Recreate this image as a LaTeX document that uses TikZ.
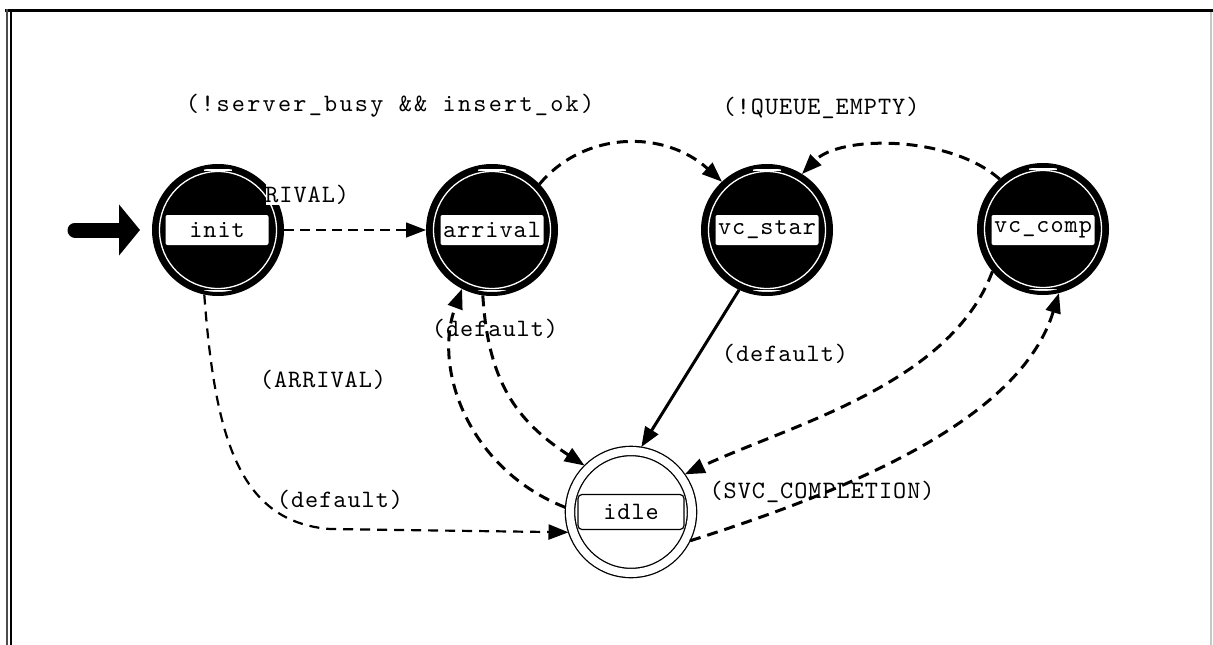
\documentclass[tikz,border=0pt]{standalone}
\usepackage{fontspec}
\usetikzlibrary{arrows.meta}
\newfontfamily\tagfont[LetterSpace=4]{lmmono10-regular.otf}
\newfontfamily\guardfont[LetterSpace=9]{lmmono10-regular.otf}

\tikzset{
  state/.style={circle, fill=black, draw=black, line width=4pt,
    minimum size=128pt, inner sep=0pt,
    path picture={
      \draw[white, line width=1.3pt] (path picture bounding box.center) circle (58.5pt);
      \draw[white, line width=2pt]
        ([shift={(-14pt,60.5pt)}]path picture bounding box.center) -- ++(28pt,0pt);
      \draw[white, line width=2pt]
        ([shift={(-14pt,-60.5pt)}]path picture bounding box.center) -- ++(28pt,0pt);
    }},
  final/.style={circle, fill=white, draw=black, line width=1.3pt,
    double=white, double distance=8pt, minimum size=122pt,
    inner sep=0pt, outer sep=4.7pt},
  tag/.style={rectangle, fill=white, rounded corners=2pt, minimum width=103pt,
    minimum height=30pt, inner sep=0pt, font=\tagfont\fontsize{25}{25}\selectfont},
  idletag/.style={tag, draw=black, line width=1.2pt, rounded corners=4pt,
    minimum width=106pt, minimum height=35pt},
  lbl/.style={inner sep=0pt, font=\tagfont\fontsize{25}{25}\selectfont},
  tip/.style={-{Triangle[length=20pt,width=15pt]}},
  thinedge/.style={tip, line width=1.4pt, dash pattern=on 10pt off 6pt},
  midedge/.style={tip, line width=2.2pt, dash pattern=on 10pt off 7pt},
  thickedge/.style={tip, line width=3pt, dash pattern=on 11pt off 7pt},
  solidedge/.style={tip, line width=3pt},
}

\begin{document}
\begin{tikzpicture}[x=1pt, y=-1pt]
\useasboundingbox (0,0) rectangle (1213,645);

% window frame
\draw[line width=3pt] (5,10.5) -- (1213,10.5);
\draw[black!70, line width=2pt] (7,9) -- (7,645);
\draw[line width=1.5pt] (10.8,12) -- (10.8,645);
\draw[gray!45, line width=1.5pt] (1211,12) -- (1211,645);

% states
\node[state] (init) at (218,230) {};
\node[tag] (init-tag) at (217,230) {init};
\node[state] (arrival) at (492,230) {};
\node[tag] (arrival-tag) at (492,230) {arrival};
\node[state] (vcstar) at (767,230) {};
\node[tag] (vcstar-tag) at (767,230) {vc\_star};
\node[state] (vccomp) at (1043,229) {};
\node[tag] (vccomp-tag) at (1043,230) {vc\_comp};
\node[final] (idle) at (631,512) {};
\node[idletag] (idle-tag) at (631,512) {idle};

% transition conditions
\begin{scope}
  \clip (266,180) rectangle (360,212);
  \node[lbl, fill=white] (l-arrival1) at (286,195) {(ARRIVAL)};
\end{scope}
\node[inner sep=0pt, font=\guardfont\fontsize{25}{25}\selectfont] (l-guard) at (390,106)
  {(!server\_busy \&\& insert\_ok)};
\node[lbl] (l-queue) at (821,108) {(!QUEUE\_EMPTY)};
\node[lbl] (l-arrival2) at (323,380) {(ARRIVAL)};
\node[lbl] (l-default1) at (495,329) {(default)};
\node[lbl] (l-default2) at (785,354) {(default)};
\node[lbl] (l-default3) at (340,500) {(default)};
\node[lbl] (l-svc) at (822,492) {(SVC\_COMPLETION)};

% initial transition
\coordinate (entry) at (75,230);
\draw[line width=15pt, line cap=round, -{Triangle[length=21pt,width=50pt]},
  shorten >=12pt] (entry) -- (init.west);

% transitions
\draw[thinedge] (init) -- (arrival);
\draw[midedge] (init.-102) .. controls (215,440) and (240,522) .. (330,529)
  -- (idle.198);
\draw[thickedge] (arrival.-98) .. controls (488,380) and (515,420) .. (idle.135);
\draw[thickedge] (idle.176) .. controls (470,470) and (432,370) .. (arrival.-117);
\draw[thickedge] (arrival.44) .. controls (585,130) and (665,130) .. (vcstar.133);
\draw[thickedge] (vccomp.131) .. controls (950,135) and (840,135) .. (vcstar.58);
\draw[solidedge] (vcstar.-115) -- (idle.81);
\draw[thickedge] (vccomp.-140) .. controls (950,385) and (790,425) .. (idle.35);
\draw[thickedge] (idle.-26) .. controls (850,490) and (1020,420) .. (vccomp.-76);
\end{tikzpicture}
\end{document}
